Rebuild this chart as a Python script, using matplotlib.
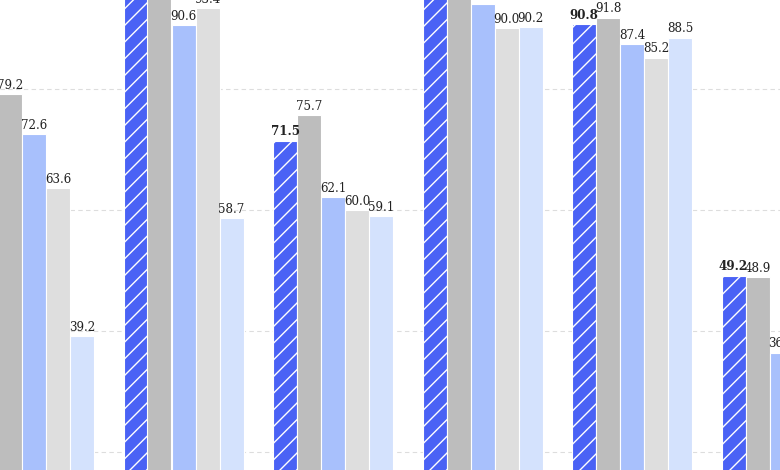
import matplotlib
matplotlib.use("Agg")
import matplotlib.pyplot as plt
import numpy as np

groups = ["G1", "G2", "G3", "G4", "G5", "G6"]
series = ["Ours", "Baseline A", "Baseline B", "Baseline C", "Baseline D"]
ours       = [97.5, 98.2, 71.5, 98.6, 90.8, 49.2]
baseline_a = [79.2, 97.4, 75.7, 97.1, 91.8, 48.9]
baseline_b = [72.6, 90.6, 62.1, 94.0, 87.4, 36.5]
baseline_c = [63.6, 93.4, 60.0, 90.0, 85.2, 33.0]
baseline_d = [39.2, 58.7, 59.1, 90.2, 88.5, 30.0]
values = [ours, baseline_a, baseline_b, baseline_c, baseline_d]
colors = ["#4A62F5", "#BDBDBD", "#A8C0FC", "#DEDEDE", "#D4E2FD"]

plt.rcParams["hatch.linewidth"] = 1.0
fig = plt.figure(figsize=(7.8, 4.7), dpi=100)
ax = fig.add_axes([0, 0, 1, 1])

x = np.arange(len(groups))
w = 24 / 149.5
for k, (vals, c) in enumerate(zip(values, colors)):
    pos = x + (k - 2) * w
    bars = ax.bar(pos, vals, width=w, color=c, edgecolor="white", linewidth=0.8,
                  hatch="//" if k == 0 else None, zorder=3)
    for b, v in zip(bars, vals):
        ax.annotate(f"{v:.1f}", (b.get_x() + b.get_width() / 2, v),
                    xytext=(0, 1.5), textcoords="offset points",
                    ha="center", va="bottom", family="DejaVu Serif",
                    fontsize=8.6, color="#222222",
                    fontweight="bold" if k == 0 else "normal", zorder=4,
                    annotation_clip=False)

for yv in [20, 40, 60, 80]:
    ax.axhline(yv, color="#dddddd", linestyle=(0, (4, 3)), linewidth=0.8, zorder=1)

ax.set_xlim(-34 / 149.5, (780 - 34) / 149.5)
ax.set_ylim(17.1, 94.7)
ax.axis("off")
fig.savefig("out.png", dpi=100)
